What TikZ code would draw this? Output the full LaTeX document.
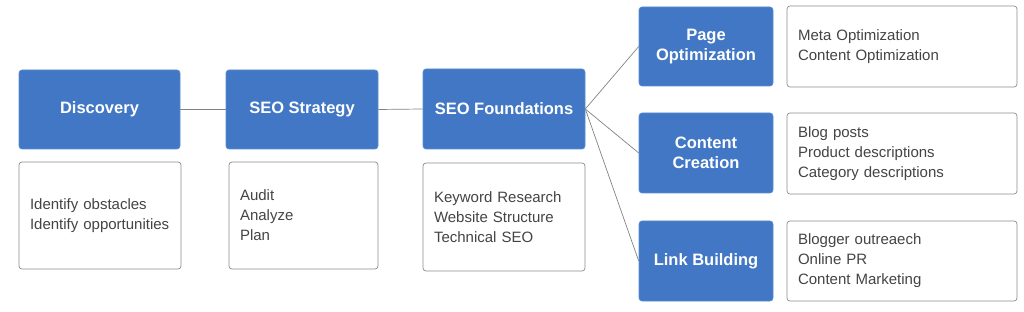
\documentclass[tikz,border=0pt]{standalone}
\usepackage{fontspec}
\setmainfont{Liberation Sans}
\definecolor{boxblue}{RGB}{65,119,196}
\definecolor{boxblueedge}{RGB}{90,140,210}
\definecolor{txtgray}{RGB}{68,68,68}
\definecolor{edgegray}{RGB}{140,140,140}
\definecolor{linegray}{RGB}{130,130,130}
\begin{document}
\begin{tikzpicture}[x=1pt,y=-1pt,
  stage/.style={draw=boxblueedge,fill=boxblue,rounded corners=3pt,line width=0.6pt,
    text=white,font=\fontsize{16.5}{19.5}\selectfont\bfseries,align=center,inner sep=0pt},
  detail/.style={draw=edgegray,fill=white,rounded corners=3pt,line width=0.7pt,
    text=txtgray,font=\fontsize{15}{20}\selectfont,align=left,inner xsep=11pt,inner ysep=0pt},
  link/.style={draw=linegray,line width=0.7pt}]
\useasboundingbox (0,0) rectangle (1024,312);
% stages
\node[stage,minimum width=161pt,minimum height=79pt] (disc) at (99.5,109.5) {Discovery};
\node[stage,minimum width=152pt,minimum height=79pt] (strat) at (302,109.5) {SEO Strategy};
\node[stage,minimum width=162pt,minimum height=80pt] (found) at (504,109) {SEO Foundations};
\node[stage,minimum width=134pt,minimum height=79pt] (page) at (706,46.5) {Page\\Optimization};
\node[stage,minimum width=134pt,minimum height=80pt] (content) at (706,153) {Content\\Creation};
\node[stage,minimum width=134pt,minimum height=80pt] (linkb) at (706,261) {Link Building};
% details
\node[detail,text width=140pt,minimum height=107pt] (discd) at (100,215.5) {Identify obstacles\\Identify opportunities};
\node[detail,text width=127pt,minimum height=107pt] (stratd) at (303.5,215.5) {Audit\\Analyze\\Plan};
\node[detail,text width=140pt,minimum height=108pt] (foundd) at (504,217) {Keyword Research\\Website Structure\\Technical SEO};
\node[detail,text width=208pt,minimum height=81pt] (paged) at (902,46.5) {Meta Optimization\\Content Optimization};
\node[detail,text width=208pt,minimum height=81pt] (contentd) at (902,153.5) {Blog posts\\Product descriptions\\Category descriptions};
\node[detail,text width=208pt,minimum height=80pt] (linkd) at (902,261) {Blogger outreaech\\Online PR\\Content Marketing};
% connectors
\draw[link] (disc.east) -- (strat.west);
\draw[link] (strat.east) -- (found.west);
\draw[link] (found.east) -- (page.west);
\draw[link] (found.east) -- (content.west);
\draw[link] (found.east) -- (linkb.west);
\end{tikzpicture}
\end{document}
